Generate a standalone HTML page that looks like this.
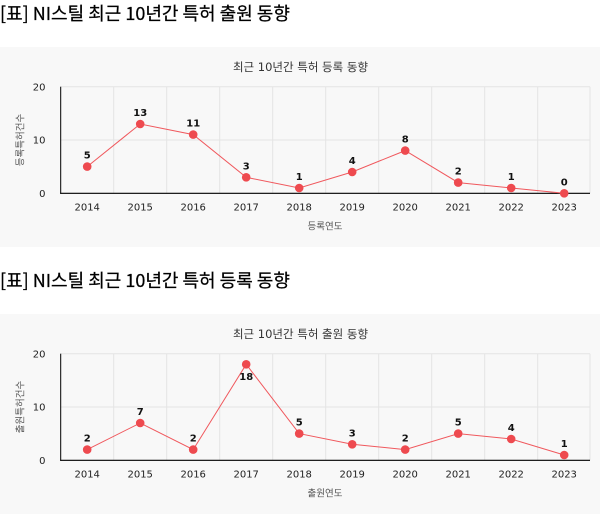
<!DOCTYPE html>
<html><head><meta charset="utf-8">
<style>
html,body{margin:0;padding:0;background:#fff;}
svg{display:block;}
text{font-family:"DejaVu Sans","Noto Sans CJK KR",sans-serif;}
.h{font-family:"Noto Sans CJK KR","Liberation Sans",sans-serif;font-size:18px;fill:#000;stroke:#000;stroke-width:0.25px;}
.t{font-family:"DejaVu Sans","Noto Sans CJK KR",sans-serif;font-size:11.5px;fill:#333;}
.tk{font-family:"DejaVu Sans","Noto Sans CJK KR",sans-serif;font-size:10px;fill:#222;}
.at{font-family:"DejaVu Sans","Noto Sans CJK KR",sans-serif;font-size:9.5px;fill:#555;}
.dl{font-family:"DejaVu Sans","Noto Sans CJK KR",sans-serif;font-size:10px;font-weight:bold;fill:#111;}
.g{stroke:#e4e4e4;stroke-width:1;}
</style></head>
<body>
<svg width="600" height="514" viewBox="0 0 600 514" xmlns="http://www.w3.org/2000/svg">
<rect x="0" y="0" width="600" height="514" fill="#fff"/>
<text class="h" x="0" y="20">[표] NI스틸 최근 10년간 특허 출원 동향</text>
<text class="h" x="0" y="287">[표] NI스틸 최근 10년간 특허 등록 동향</text>

<!-- Chart 1 -->
<g>
<rect x="0" y="47" width="600" height="200" fill="#f8f8f8"/>
<text class="t" x="300.5" y="71" text-anchor="middle">최근 10년간 특허 등록 동향</text>
<g class="g">
<line x1="60.7" y1="86.7" x2="590" y2="86.7"/>
<line x1="60.7" y1="140" x2="590" y2="140"/>
<line x1="113.7" y1="86.7" x2="113.7" y2="193.3"/>
<line x1="166.7" y1="86.7" x2="166.7" y2="193.3"/>
<line x1="219.7" y1="86.7" x2="219.7" y2="193.3"/>
<line x1="272.7" y1="86.7" x2="272.7" y2="193.3"/>
<line x1="325.7" y1="86.7" x2="325.7" y2="193.3"/>
<line x1="378.7" y1="86.7" x2="378.7" y2="193.3"/>
<line x1="431.7" y1="86.7" x2="431.7" y2="193.3"/>
<line x1="484.7" y1="86.7" x2="484.7" y2="193.3"/>
<line x1="537.7" y1="86.7" x2="537.7" y2="193.3"/>
<line x1="590" y1="86.7" x2="590" y2="193.3"/>
</g>
<line x1="60.7" y1="86.7" x2="60.7" y2="193.8" stroke="#000" stroke-width="1"/>
<line x1="60.2" y1="193.3" x2="590" y2="193.3" stroke="#000" stroke-width="1.2"/>
<g class="tk" text-anchor="end">
<text x="45.5" y="90.4">20</text>
<text x="45.5" y="143.7">10</text>
<text x="45.5" y="197">0</text>
</g>
<g class="tk" text-anchor="middle">
<text x="87.2" y="210.4">2014</text>
<text x="140.2" y="210.4">2015</text>
<text x="193.2" y="210.4">2016</text>
<text x="246.2" y="210.4">2017</text>
<text x="299.2" y="210.4">2018</text>
<text x="352.2" y="210.4">2019</text>
<text x="405.2" y="210.4">2020</text>
<text x="458.2" y="210.4">2021</text>
<text x="511.2" y="210.4">2022</text>
<text x="564.2" y="210.4">2023</text>
</g>
<text class="at" x="325" y="229.5" text-anchor="middle">등록연도</text>
<text class="at" transform="translate(23.5,140) rotate(-90)" text-anchor="middle">등록특허건수</text>
<polyline fill="none" stroke="#f0585d" stroke-width="1" points="87.2,166.6 140.2,124 193.2,134.6 246.2,177.3 299.2,188 352.2,172 405.2,150.6 458.2,182.6 511.2,188 564.2,193.3"/>
<g fill="#ee4a4f">
<circle cx="87.2" cy="166.6" r="4.3"/>
<circle cx="140.2" cy="124" r="4.3"/>
<circle cx="193.2" cy="134.6" r="4.3"/>
<circle cx="246.2" cy="177.3" r="4.3"/>
<circle cx="299.2" cy="188" r="4.3"/>
<circle cx="352.2" cy="172" r="4.3"/>
<circle cx="405.2" cy="150.6" r="4.3"/>
<circle cx="458.2" cy="182.6" r="4.3"/>
<circle cx="511.2" cy="188" r="4.3"/>
<circle cx="564.2" cy="193.3" r="4.3"/>
</g>
<g class="dl" text-anchor="middle">
<text x="87.2" y="158.6">5</text>
<text x="140.2" y="116">13</text>
<text x="193.2" y="126.6">11</text>
<text x="246.2" y="169.3">3</text>
<text x="299.2" y="180">1</text>
<text x="352.2" y="164">4</text>
<text x="405.2" y="142.6">8</text>
<text x="458.2" y="174.6">2</text>
<text x="511.2" y="180">1</text>
<text x="564.2" y="185.3">0</text>
</g>
</g>

<!-- Chart 2 -->
<g>
<rect x="0" y="314" width="600" height="200" fill="#f8f8f8"/>
<text class="t" x="300.5" y="338" text-anchor="middle">최근 10년간 특허 출원 동향</text>
<g class="g">
<line x1="60.7" y1="353.7" x2="590" y2="353.7"/>
<line x1="60.7" y1="407" x2="590" y2="407"/>
<line x1="113.7" y1="353.7" x2="113.7" y2="460.3"/>
<line x1="166.7" y1="353.7" x2="166.7" y2="460.3"/>
<line x1="219.7" y1="353.7" x2="219.7" y2="460.3"/>
<line x1="272.7" y1="353.7" x2="272.7" y2="460.3"/>
<line x1="325.7" y1="353.7" x2="325.7" y2="460.3"/>
<line x1="378.7" y1="353.7" x2="378.7" y2="460.3"/>
<line x1="431.7" y1="353.7" x2="431.7" y2="460.3"/>
<line x1="484.7" y1="353.7" x2="484.7" y2="460.3"/>
<line x1="537.7" y1="353.7" x2="537.7" y2="460.3"/>
<line x1="590" y1="353.7" x2="590" y2="460.3"/>
</g>
<line x1="60.7" y1="353.7" x2="60.7" y2="460.8" stroke="#000" stroke-width="1"/>
<line x1="60.2" y1="460.3" x2="590" y2="460.3" stroke="#000" stroke-width="1.2"/>
<g class="tk" text-anchor="end">
<text x="45.5" y="357.4">20</text>
<text x="45.5" y="410.7">10</text>
<text x="45.5" y="464">0</text>
</g>
<g class="tk" text-anchor="middle">
<text x="87.2" y="477.4">2014</text>
<text x="140.2" y="477.4">2015</text>
<text x="193.2" y="477.4">2016</text>
<text x="246.2" y="477.4">2017</text>
<text x="299.2" y="477.4">2018</text>
<text x="352.2" y="477.4">2019</text>
<text x="405.2" y="477.4">2020</text>
<text x="458.2" y="477.4">2021</text>
<text x="511.2" y="477.4">2022</text>
<text x="564.2" y="477.4">2023</text>
</g>
<text class="at" x="325" y="496.5" text-anchor="middle">출원연도</text>
<text class="at" transform="translate(23.5,407) rotate(-90)" text-anchor="middle">출원특허건수</text>
<polyline fill="none" stroke="#f0585d" stroke-width="1" points="87.2,449.6 140.2,423 193.2,449.6 246.2,364.3 299.2,433.6 352.2,444.3 405.2,449.6 458.2,433.6 511.2,439 564.2,455"/>
<g fill="#ee4a4f">
<circle cx="87.2" cy="449.6" r="4.3"/>
<circle cx="140.2" cy="423" r="4.3"/>
<circle cx="193.2" cy="449.6" r="4.3"/>
<circle cx="246.2" cy="364.3" r="4.3"/>
<circle cx="299.2" cy="433.6" r="4.3"/>
<circle cx="352.2" cy="444.3" r="4.3"/>
<circle cx="405.2" cy="449.6" r="4.3"/>
<circle cx="458.2" cy="433.6" r="4.3"/>
<circle cx="511.2" cy="439" r="4.3"/>
<circle cx="564.2" cy="455" r="4.3"/>
</g>
<g class="dl" text-anchor="middle">
<text x="87.2" y="441.6">2</text>
<text x="140.2" y="415">7</text>
<text x="193.2" y="441.6">2</text>
<text x="246.2" y="380">18</text>
<text x="299.2" y="425.6">5</text>
<text x="352.2" y="436.3">3</text>
<text x="405.2" y="441.6">2</text>
<text x="458.2" y="425.6">5</text>
<text x="511.2" y="431">4</text>
<text x="564.2" y="447">1</text>
</g>
</g>
</svg>
</body></html>
